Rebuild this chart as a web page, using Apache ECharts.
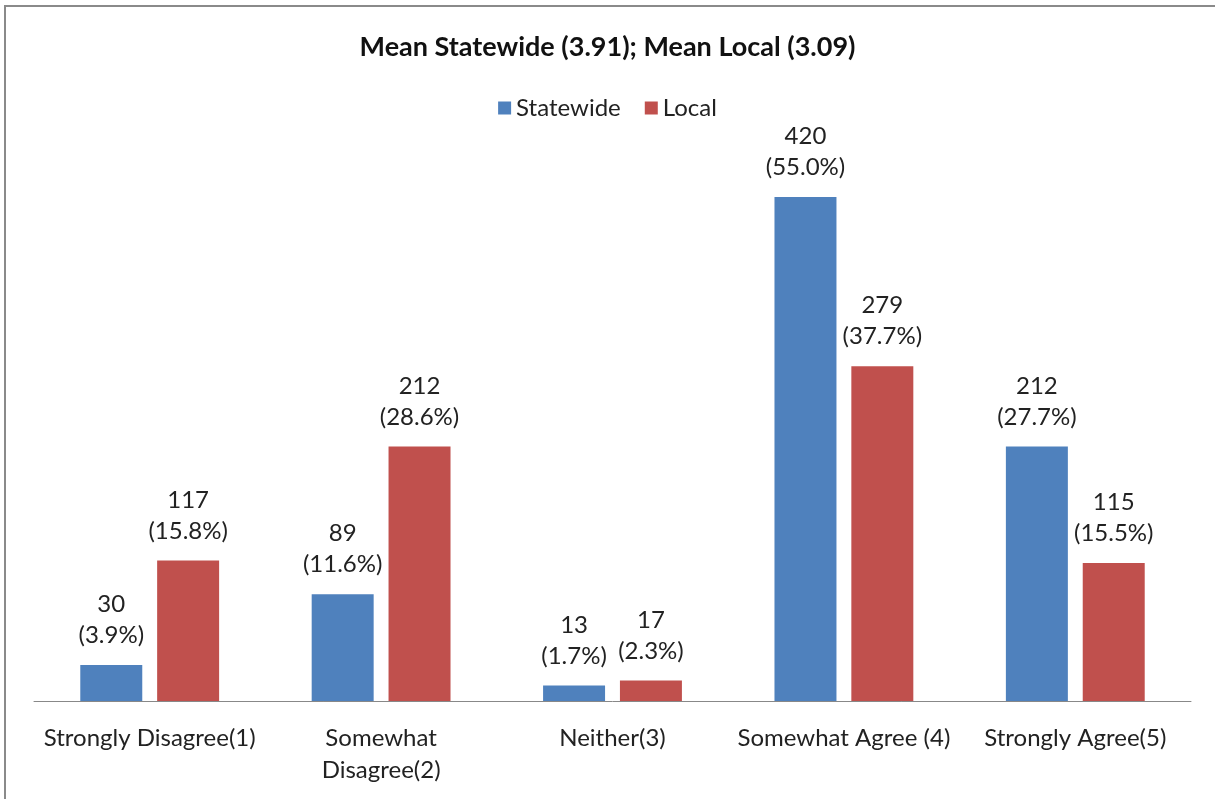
<!DOCTYPE html>
<html>
<head>
<meta charset="utf-8">
<script src="https://cdn.jsdelivr.net/npm/echarts@6/dist/echarts.min.js"></script>
<style>
  html, body { margin: 0; padding: 0; background: #fff; }
  #chart { width: 1215px; height: 799px; }
</style>
</head>
<body>
<div id="chart"></div>
<script>
// Survey responses by agreement level
const categories = ['Strongly Disagree(1)', 'Somewhat\nDisagree(2)', 'Neither(3)', 'Somewhat Agree (4)', 'Strongly Agree(5)'];
const statewideCounts = [30, 89, 13, 420, 212];
const statewidePct = ['3.9%', '11.6%', '1.7%', '55.0%', '27.7%'];
const localCounts = [117, 212, 17, 279, 115];
const localPct = ['15.8%', '28.6%', '2.3%', '37.7%', '15.5%'];

const FONT = 'Lato, "Open Sans", sans-serif';

function labelFor(pcts) {
  return {
    show: true,
    position: 'top',
    distance: 14,
    color: '#222',
    fontFamily: FONT,
    fontSize: 24,
    lineHeight: 31,
    formatter: p => p.value + '\n(' + pcts[p.dataIndex] + ')'
  };
}

const chart = echarts.init(document.getElementById('chart'));
chart.setOption({
  animation: false,
  title: {
    text: 'Mean Statewide (3.91); Mean Local (3.09)',
    left: 'center',
    top: 29,
    textStyle: { fontFamily: FONT, fontSize: 27, fontWeight: 'bold', color: '#111' }
  },
  legend: {
    top: 91,
    left: 'center',
    itemWidth: 13,
    itemHeight: 13,
    itemGap: 24,
    icon: 'rect',
    textStyle: { fontFamily: FONT, fontSize: 24, color: '#222' },
    data: ['Statewide', 'Local']
  },
  graphic: [{
    type: 'rect',
    shape: { x: 5, y: 6, width: 1240, height: 820 },
    style: { fill: 'none', stroke: '#8a8a8a', lineWidth: 2 },
    silent: true
  }],
  grid: { left: 34, right: 24, top: 101, bottom: 98 },
  xAxis: {
    type: 'category',
    data: categories,
    axisLine: { lineStyle: { color: '#888', width: 1 } },
    axisTick: { show: false },
    axisLabel: {
      interval: 0,
      margin: 21,
      color: '#222',
      fontFamily: FONT,
      fontSize: 24,
      lineHeight: 32
    }
  },
  yAxis: {
    type: 'value',
    min: 0,
    max: 500,
    show: false,
    splitLine: { show: false }
  },
  series: [
    {
      name: 'Statewide',
      type: 'bar',
      data: statewideCounts,
      barGap: '24%',
      barCategoryGap: '40%',
      itemStyle: { color: '#4f81bd' },
      label: labelFor(statewidePct)
    },
    {
      name: 'Local',
      type: 'bar',
      data: localCounts,
      itemStyle: { color: '#c0504d' },
      label: labelFor(localPct)
    }
  ]
});
</script>
</body>
</html>
